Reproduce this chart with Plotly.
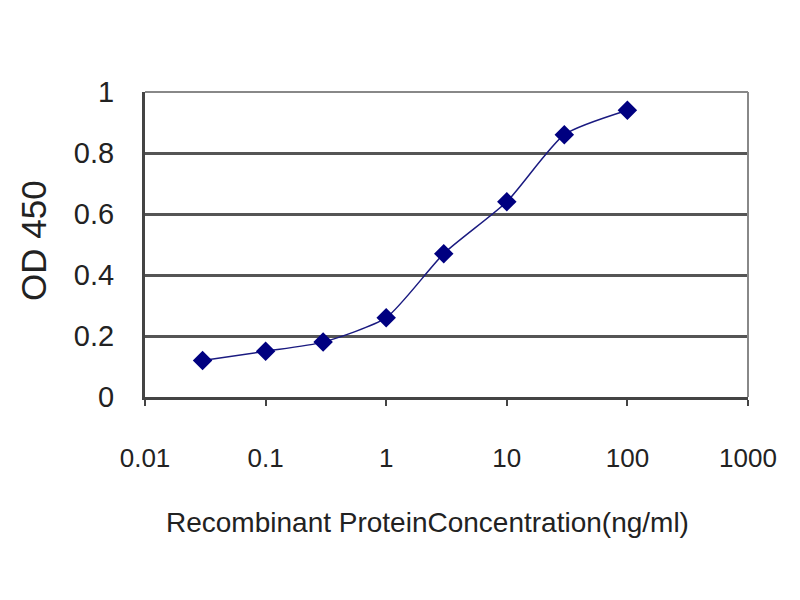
import plotly.graph_objects as go

concentration = [0.03, 0.1, 0.3, 1, 3, 10, 30, 100]
od450 = [0.12, 0.15, 0.18, 0.26, 0.47, 0.64, 0.86, 0.94]
x_tick_vals = [0.01, 0.1, 1, 10, 100, 1000]
x_tick_text = ["0.01", "0.1", "1", "10", "100", "1000"]
y_tick_vals = [0, 0.2, 0.4, 0.6, 0.8, 1]
y_tick_text = ["0", "0.2", "0.4", "0.6", "0.8", "1"]

# page body has an 8px margin, so the figure is drawn 8px in from the window edge
PAD = 8
L_ref, T_ref, R_ref, B_ref = 145, 92, 748, 397
W, H = 800 - 2 * PAD, 600 - 2 * PAD
L, T = L_ref - PAD, T_ref - PAD
pw, ph = R_ref - L_ref, B_ref - T_ref
R, B = W - L - pw, H - T - ph


def px_to_paper(px, py):
    return (px - L_ref) / pw, 1 - (py - T_ref) / ph


fig = go.Figure()
fig.add_trace(go.Scatter(
    x=concentration, y=od450, mode="lines+markers",
    line=dict(color="#1a1a80", width=1.5, shape="spline", smoothing=0.6),
    marker=dict(symbol="diamond", size=15, color="#000080"),
    showlegend=False,
))

fam = "Liberation Sans, Arial, sans-serif"
tx, ty = px_to_paper(427, 522)
ox, oy = px_to_paper(34, 241)

fig.update_layout(
    width=W, height=H,
    margin=dict(l=L, r=R, t=T, b=B, autoexpand=False),
    paper_bgcolor="white", plot_bgcolor="white",
    font=dict(family=fam, color="#222222"),
    xaxis=dict(
        type="log", range=[-2, 3],
        tickvals=x_tick_vals, ticktext=x_tick_text,
        tickfont=dict(size=26, color="#222222"),
        ticks="outside", ticklen=6, tickwidth=2, tickcolor="#444444",
        showgrid=False, zeroline=False,
        showline=True, linecolor="#444444", linewidth=3,
        ticklabelstandoff=30,
    ),
    yaxis=dict(
        range=[0, 1],
        tickvals=y_tick_vals, ticktext=y_tick_text,
        tickfont=dict(size=29, color="#222222"),
        ticks="", showgrid=True, gridcolor="#555555", gridwidth=3,
        zeroline=False,
        showline=True, linecolor="#444444", linewidth=3,
        ticklabelstandoff=22,
    ),
    annotations=[
        dict(text="Recombinant ProteinConcentration(ng/ml)", x=tx, y=ty,
             xref="paper", yref="paper", xanchor="center", yanchor="middle",
             showarrow=False, font=dict(size=28, color="#222222")),
        dict(text="OD 450", x=ox, y=oy, xref="paper", yref="paper",
             xanchor="center", yanchor="middle", textangle=-90,
             showarrow=False, font=dict(size=35, color="#222222")),
    ],
)

fig.add_shape(type="line", xref="paper", yref="paper", x0=0, x1=1, y0=1, y1=1,
              line=dict(color="#888888", width=2))
fig.add_shape(type="line", xref="paper", yref="paper", x0=1, x1=1, y0=0, y1=1,
              line=dict(color="#888888", width=2))

fig.write_html("out.html")
